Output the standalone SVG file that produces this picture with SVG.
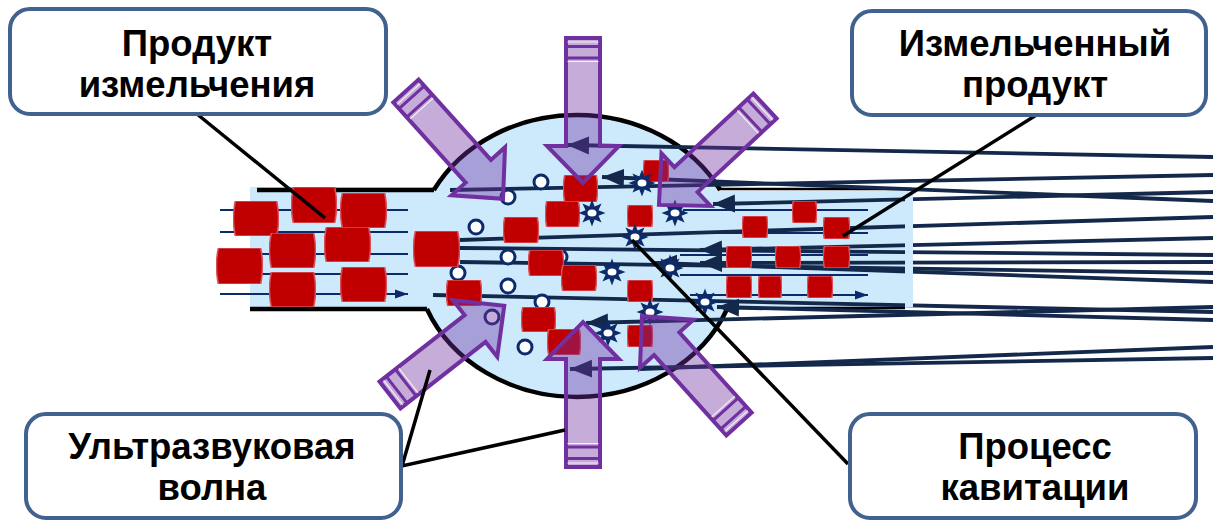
<svg xmlns="http://www.w3.org/2000/svg" width="1213" height="520" viewBox="0 0 1213 520">
  <style>
    .fluid { fill: #cceafc; }
    .wall { fill: none; stroke: #000; stroke-width: 4.5; }
    .ray { fill: none; stroke: #13284a; stroke-width: 3.8; }
    .ray-a { fill: none; stroke: #13284a; stroke-width: 3.8; marker-start: url(#ah); }
    .flow { fill: none; stroke: #0b2a6b; stroke-width: 2.2; marker-end: url(#sh); }
    .bubble { fill: #fff; stroke: #0d2a6b; stroke-width: 3; }
    .star { fill: #0d2a6b; }
    .core { fill: #fff; }
    .callout { fill: none; stroke: #000; stroke-width: 3.5; }
    .box { fill: #fff; stroke: #41628e; stroke-width: 4; }
    .label { font-family: "Liberation Sans", Arial, sans-serif; font-weight: bold; font-size: 36.5px; fill: #000; text-anchor: middle; }
  </style>
  <defs>
    <marker id="ah" markerUnits="userSpaceOnUse" markerWidth="24" markerHeight="20" refX="22" refY="10" orient="auto-start-reverse">
      <path d="M0,1 L22,10 L0,19 Z" fill="#13284a"/>
    </marker>
    <marker id="sh" markerUnits="userSpaceOnUse" markerWidth="14" markerHeight="10" refX="13" refY="5" orient="auto">
      <path d="M0,0.5 L13,5 L0,9.5 Z" fill="#0b2a6b"/>
    </marker>
    <!-- particle: block with slightly bulging sides -->
    <symbol id="pt" viewBox="0 0 100 100" preserveAspectRatio="none">
      <path d="M5,0 H95 Q103,50 95,100 H5 Q-3,50 5,0 Z" fill="#c00000" stroke="#d8505a" stroke-width="1.5" vector-effect="non-scaling-stroke"/>
    </symbol>
    <!-- cavitation star -->
    <g id="st">
      <path class="star" d="M13.5,0 L6.47,2.68 L9.55,9.55 L2.68,6.47 L0,13.5 L-2.68,6.47 L-9.55,9.55 L-6.47,2.68 L-13.5,0 L-6.47,-2.68 L-9.55,-9.55 L-2.68,-6.47 L0,-13.5 L2.68,-6.47 L9.55,-9.55 L6.47,-2.68 Z"/>
      <ellipse class="core" cx="0" cy="0" rx="4.5" ry="3.5"/>
    </g>
    <!-- ultrasound emitter arrow, pointing along +x -->
    <g id="ua">
      <path d="M0,-17 H108 V-36 L145,0 L108,36 V17 H0 Z" fill="#7030a0" fill-opacity="0.4" stroke="#7030a0" stroke-width="4"/>
      <path d="M8.5,-17 V17 M20,-17 V17" stroke="#7030a0" stroke-width="3"/>
      <path d="M4,-15.5 V15.5 M23.5,-15.5 V15.5" stroke="#fff" stroke-width="1.2" opacity="0.85"/>
    </g>
  </defs>

  <!-- chamber and pipes -->
  <g id="chamber">
    <ellipse class="fluid" cx="577" cy="256" rx="162" ry="141"/>
    <rect class="fluid" x="250" y="187" width="190" height="120"/>
    <rect class="fluid" x="715" y="191" width="198" height="116"/>
    <path class="wall" d="M433.8,190 A162,141 0 0 1 720.2,190"/>
    <path class="wall" d="M426.9,309 A162,141 0 0 0 727.1,309"/>
    <path class="wall" d="M257,190 H434 M250,309 H427"/>
    <path class="wall" style="stroke-width:2.5" d="M720,189 H912 M727,308 H905"/>
  </g>

  <!-- incoming/outgoing flow arrows -->
  <g id="flow">
    <path class="flow" d="M220,210 H408 M220,232 H408 M220,254 H408 M220,274 H408 M220,294 H408"/>
    <path class="flow" d="M683,210 H868 M690,233 H868 M680,255 H868 M680,275 H868 M690,295 H868"/>
  </g>

  <!-- wave rays -->
  <g id="rays">
    <path class="ray" d="M450,190 L1213,175"/>
    <path class="ray" d="M460,240 L1213,217"/>
    <path class="ray" d="M460,248 L1213,255"/>
    <path class="ray" d="M460,262 L1213,273"/>
    <path class="ray" d="M433,295 L1213,312"/>
    <path class="ray" d="M640,369 L1213,347"/>
    <path class="ray-a" d="M567,145 L1213,157"/>
    <path class="ray-a" d="M602,177 L1213,201"/>
    <path class="ray-a" d="M713,204 L1213,192"/>
    <path class="ray-a" d="M700,250 L1213,238"/>
    <path class="ray-a" d="M700,263 L1213,262"/>
    <path class="ray-a" d="M655,263 L1213,282"/>
    <path class="ray-a" d="M717,307 L1213,320"/>
    <path class="ray-a" d="M586,323 L1213,307"/>
    <path class="ray-a" d="M570,369 L1213,358"/>
    <rect class="fluid" x="905" y="192" width="8" height="115"/>
  </g>

  <!-- bubbles -->
  <g id="bubbles">
    <circle class="bubble" cx="541" cy="182" r="7"/>
    <circle class="bubble" cx="508" cy="197" r="7"/>
    <circle class="bubble" cx="476" cy="227" r="7"/>
    <circle class="bubble" cx="508" cy="257" r="7"/>
    <circle class="bubble" cx="560" cy="257" r="7"/>
    <circle class="bubble" cx="458" cy="273" r="7"/>
    <circle class="bubble" cx="508" cy="286" r="7"/>
    <circle class="bubble" cx="542" cy="302" r="7"/>
    <circle class="bubble" cx="492" cy="317" r="7"/>
    <circle class="bubble" cx="525" cy="347" r="7"/>
  </g>

  <!-- particles -->
  <g id="particles">
    <use href="#pt" x="233" y="201" width="46" height="35"/>
    <use href="#pt" x="291" y="187" width="46" height="36"/>
    <use href="#pt" x="340" y="193" width="47" height="35"/>
    <use href="#pt" x="269" y="233" width="47" height="35"/>
    <use href="#pt" x="324" y="227" width="47" height="35"/>
    <use href="#pt" x="216" y="248" width="47" height="36"/>
    <use href="#pt" x="269" y="272" width="47" height="35"/>
    <use href="#pt" x="340" y="267" width="47" height="35"/>
    <use href="#pt" x="413" y="231" width="47" height="36"/>
    <use href="#pt" x="563" y="175" width="35" height="27"/>
    <use href="#pt" x="545" y="201" width="35" height="26"/>
    <use href="#pt" x="503" y="217" width="36" height="26"/>
    <use href="#pt" x="528" y="250" width="36" height="26"/>
    <use href="#pt" x="561" y="265" width="36" height="26"/>
    <use href="#pt" x="446" y="280" width="36" height="26"/>
    <use href="#pt" x="627" y="205" width="26" height="22"/>
    <use href="#pt" x="643" y="160" width="26" height="22"/>
    <use href="#pt" x="627" y="280" width="26" height="22"/>
    <use href="#pt" x="521" y="307" width="35" height="25"/>
    <use href="#pt" x="547" y="329" width="34" height="26"/>
    <use href="#pt" x="627" y="325" width="26" height="22"/>
    <use href="#pt" x="792" y="201" width="25" height="22"/>
    <use href="#pt" x="742" y="216" width="26" height="22"/>
    <use href="#pt" x="823" y="217" width="27" height="22"/>
    <use href="#pt" x="726" y="246" width="26" height="22"/>
    <use href="#pt" x="775" y="246" width="26" height="22"/>
    <use href="#pt" x="823" y="246" width="27" height="22"/>
    <use href="#pt" x="726" y="276" width="26" height="22"/>
    <use href="#pt" x="758" y="276" width="24" height="22"/>
    <use href="#pt" x="807" y="276" width="26" height="22"/>
  </g>

  <!-- cavitation events -->
  <g id="cavitation">
    <use href="#st" x="592" y="213"/>
    <use href="#st" x="635" y="237"/>
    <use href="#st" x="612" y="272"/>
    <use href="#st" x="642" y="183"/>
    <use href="#st" x="675" y="213"/>
    <use href="#st" x="705" y="302"/>
    <use href="#st" x="670" y="268"/>
    <use href="#st" x="650" y="312"/>
    <use href="#st" x="608" y="333"/>
  </g>

  <!-- ultrasound emitters -->
  <g id="emitters">
    <use href="#ua" transform="translate(583,38) rotate(90)"/>
    <use href="#ua" transform="translate(583,467) rotate(-90)"/>
    <use href="#ua" transform="translate(406,91) rotate(48)"/>
    <use href="#ua" transform="translate(765,106) rotate(137)"/>
    <use href="#ua" transform="translate(390,395) rotate(-38)"/>
    <use href="#ua" transform="translate(739,424) rotate(-132)"/>
  </g>

  <!-- leader lines -->
  <g id="connectors">
    <path class="callout" d="M197,114 L325,218"/>
    <path class="callout" d="M1038,114 L843,236"/>
    <path class="callout" d="M430,370 L402,466 L565,430"/>
    <path class="callout" d="M848,464 L632,240"/>
  </g>

  <g id="label-product">
    <rect class="box" x="10" y="9" width="376" height="105" rx="20"/>
    <text class="label" x="197" y="56">Продукт</text>
    <text class="label" x="197" y="97">измельчения</text>
  </g>
  <g id="label-ground">
    <rect class="box" x="852" y="11" width="354" height="104" rx="20"/>
    <text class="label" x="1035" y="56">Измельченный</text>
    <text class="label" x="1035" y="97">продукт</text>
  </g>
  <g id="label-wave">
    <rect class="box" x="26" y="414" width="375" height="104" rx="20"/>
    <text class="label" x="212" y="459">Ультразвуковая</text>
    <text class="label" x="212" y="500">волна</text>
  </g>
  <g id="label-cavitation">
    <rect class="box" x="850" y="414" width="346" height="104" rx="20"/>
    <text class="label" x="1035" y="459">Процесс</text>
    <text class="label" x="1035" y="500">кавитации</text>
  </g>
</svg>
